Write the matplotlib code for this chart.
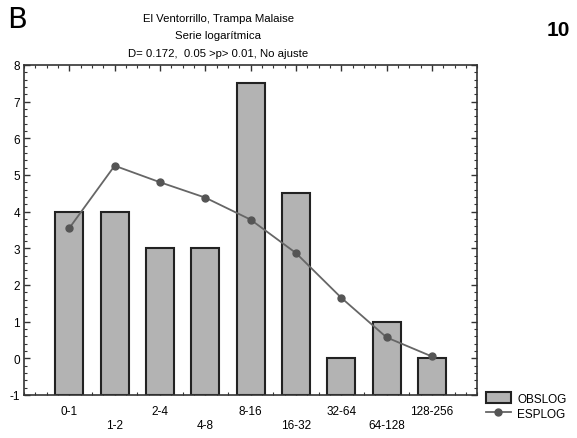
import matplotlib.pyplot as plt
import numpy as np
from matplotlib.ticker import MultipleLocator

plt.rcParams['font.family'] = ['Liberation Sans', 'DejaVu Sans']
plt.rcParams['axes.unicode_minus'] = False

clases = ['0-1', '1-2', '2-4', '4-8', '8-16', '16-32', '32-64', '64-128', '128-256']
obslog = [4, 4, 3, 3, 7.5, 4.5, 0, 1, 0]
esplog = [3.55, 5.25, 4.8, 4.38, 3.78, 2.87, 1.65, 0.57, 0.05]

fig = plt.figure(figsize=(5.77, 4.39), dpi=100)
ax = fig.add_axes([0.0416, 0.098, 0.7855, 0.752])

x = np.arange(len(clases))
base = -1
barras = ax.bar(x, np.array(obslog) - base, bottom=base, width=0.62, color='#b3b3b3',
                edgecolor='#222222', linewidth=1.5, label='OBSLOG', zorder=2)
linea, = ax.plot(x, esplog, color='#666666', linewidth=1.3, marker='o', markersize=5,
                 markerfacecolor='#555555', markeredgecolor='#555555', label='ESPLOG', zorder=3)

ax.set_xlim(-1, 9)
ax.set_ylim(-1, 8)
ax.yaxis.set_major_locator(MultipleLocator(1))
ax.yaxis.set_minor_locator(MultipleLocator(0.2))
ax.set_xticks(x)
ax.xaxis.set_minor_locator(MultipleLocator(0.25))
ax.set_xticklabels([c if i % 2 == 0 else '\n' + c for i, c in enumerate(clases)],
                   fontsize=8.5, linespacing=1.2)
ax.tick_params(axis='y', labelsize=8.5)
ax.tick_params(which='both', direction='in', top=True, right=True, color='#333333')
ax.tick_params(which='major', length=4, width=1)
ax.tick_params(which='minor', length=2, width=0.8)
ax.tick_params(axis='x', pad=7)
ax.tick_params(axis='y', pad=3)
for s in ax.spines.values():
    s.set_linewidth(1.2)
    s.set_color('#333333')

fig.text(0.378, 0.957, 'El Ventorrillo, Trampa Malaise', ha='center', va='center', fontsize=8.2)
fig.text(0.378, 0.917, 'Serie logarítmica', ha='center', va='center', fontsize=8.2)
fig.text(0.378, 0.878, 'D= 0.172,  0.05 >p> 0.01, No ajuste', ha='center', va='center', fontsize=8.2)
fig.text(0.012, 0.955, 'B', ha='left', va='center', fontsize=21, family='DejaVu Sans')
fig.text(0.988, 0.93, '10', ha='right', va='center', fontsize=15, fontweight='bold')

ax.legend([barras, linea], ['OBSLOG', 'ESPLOG'], loc='lower left',
          bbox_to_anchor=(1.0, -0.1), frameon=False, fontsize=8.5,
          handlelength=2.2, handleheight=1.1, handletextpad=0.5,
          labelspacing=0.2, borderaxespad=0.3)

fig.savefig('out.png', dpi=100)
